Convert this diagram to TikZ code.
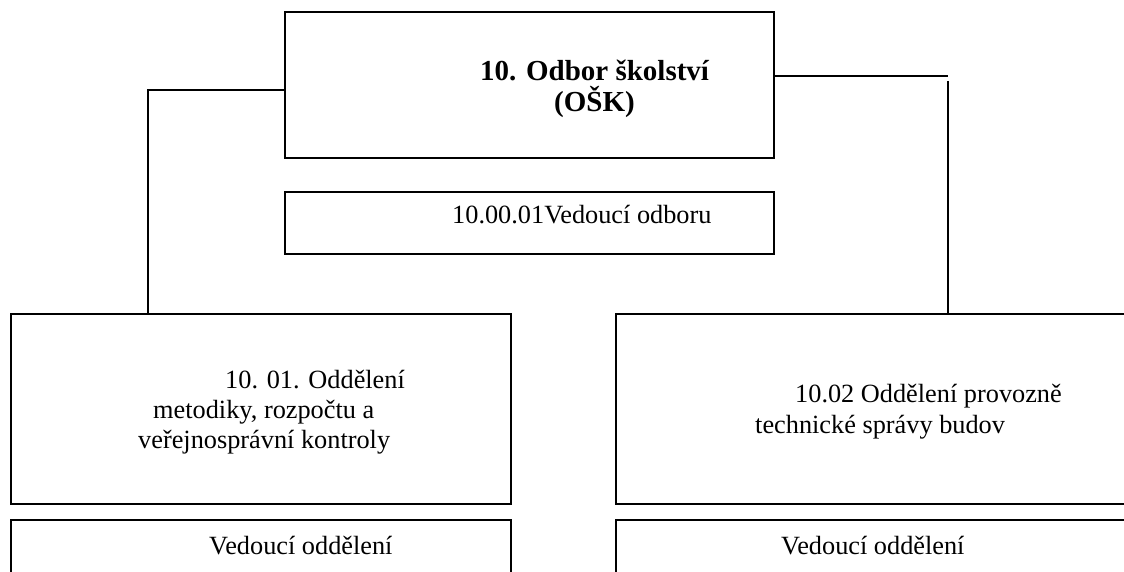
\documentclass[tikz,border=0pt]{standalone}
\usepackage{fontspec}
\setmainfont{Liberation Serif}
\begin{document}
\begin{tikzpicture}[x=1pt,y=-1pt,
  box/.style={draw, line width=1.5pt, inner sep=0pt, outer sep=0pt},
  conn/.style={line width=1.5pt},
  txt/.style={anchor=base west, inner sep=0pt, font=\fontsize{26.3}{30}\selectfont},
  btxt/.style={anchor=base west, inner sep=0pt, font=\fontsize{29}{31}\selectfont\bfseries}]
\clip (0,0) rectangle (1124,572);
% boxes
\node[box, minimum width=489pt, minimum height=146pt] (top) at (529.5,85) {};
\node[box, minimum width=489pt, minimum height=62pt] (vo) at (529.5,223) {};
\node[box, minimum width=500pt, minimum height=190pt] (lbox) at (261,409) {};
\node[box, minimum width=518pt, minimum height=190pt] (rbox) at (875,409) {};
\node[box, minimum width=500pt, minimum height=80pt] (lvo) at (261,560) {};
\node[box, minimum width=518pt, minimum height=80pt] (rvo) at (875,560) {};
% texts
\node[btxt] (t1) at (480,81) {10. Odbor školství};
\node[btxt] (t2) at (554,112) {(OŠK)};
\node[txt] (vot) at (452,223) {10.00.01Vedoucí odboru};
\node[txt] (l1) at (225,388) {10. 01. Oddělení};
\node[txt] (l2) at (153,418) {metodiky, rozpočtu a};
\node[txt] (l3) at (138,448) {veřejnosprávní kontroly};
\node[txt] (r1) at (795,402) {10.02 Oddělení provozně};
\node[txt] (r2) at (755,433) {technické správy budov};
\node[txt] (lvot) at (209,554) {Vedoucí oddělení};
\node[txt] (rvot) at (781,554) {Vedoucí oddělení};
% connectors
\coordinate (lc) at (148,90);
\coordinate (rc) at (948,76);
\coordinate (rc2) at (948,81);
\draw[conn] (top.west |- lc) -- (lc) -- (lc |- lbox.north);
\draw[conn] (top.east |- rc) -- (rc);
\draw[conn] (rc2) -- (rc2 |- rbox.north);
\end{tikzpicture}
\end{document}
